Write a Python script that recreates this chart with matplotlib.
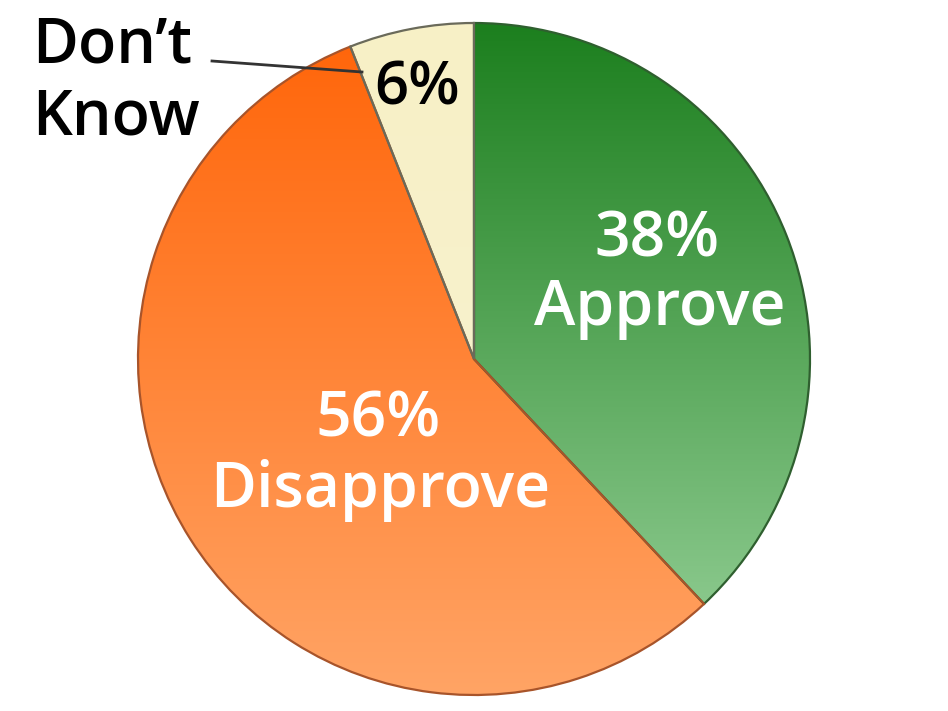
import matplotlib
matplotlib.use("Agg")
import matplotlib.pyplot as plt
import numpy as np
from matplotlib.colors import LinearSegmentedColormap

labels = ["Approve", "Disapprove", "Don\u2019t\nKnow"]
shares = [38, 56, 6]

# vertical gradients (top colour, bottom colour) and outline per slice
grad_top = ["#1c7f1e", "#ff6408", "#f7f0c6"]
grad_bot = ["#9ad39c", "#ffa465", "#f9f3d2"]
edges = ["#2f5f2f", "#a8542a", "#6a6a5a"]

plt.rcParams['font.family'] = ['Open Sans', 'DejaVu Sans']

W, H = 948, 711
R = 336.0  # pie radius in pixels
cx, cy = 474, 359


def px(x, y):
    # pixel position in the picture -> pie units
    return (x - cx) / R, (cy - y) / R


fig = plt.figure(figsize=(W / 100, H / 100), dpi=100)
ax = fig.add_axes([0, 0, 1, 1])

wedges, _ = ax.pie(shares, startangle=90, counterclock=False, radius=1.0,
                   colors=["none"] * 3,
                   wedgeprops=dict(linewidth=1.6))

grad = np.linspace(0, 1, 256).reshape(-1, 1)
for w, top, bot, ec in zip(wedges, grad_top, grad_bot, edges):
    cmap = LinearSegmentedColormap.from_list("g", [top, bot])
    im = ax.imshow(grad, cmap=cmap, extent=[-1, 1, -1, 1], origin='upper',
                   aspect='auto', zorder=1)
    im.set_clip_path(w)
    w.set_edgecolor(ec)
    w.set_zorder(2)

# limits after pie/imshow so the pie stays round and in place
ax.set_xlim(-cx / R, (W - cx) / R)
ax.set_ylim(-(H - cy) / R, cy / R)
ax.set_aspect('auto')
ax.axis('off')

fs = 45
kw = dict(fontsize=fs, ha="center", va="center", fontweight="semibold", zorder=3)
ax.text(*px(657, 240), "38%", color="white", **kw)
ax.text(*px(660, 309), labels[0], color="white", **kw)
ax.text(*px(378, 420), "56%", color="white", **kw)
ax.text(*px(380, 491), labels[1], color="white", **kw)
ax.text(*px(417, 89), "6%", color="black", fontsize=fs - 2, ha="center", va="center",
        fontweight="semibold", zorder=3)
ax.text(*px(32, 82), labels[2], color="black", fontsize=fs, ha="left", va="center",
        fontweight="semibold", linespacing=1.2, zorder=3)

# leader line from label to slice
x0, y0 = px(212, 61)
x1, y1 = px(362, 72)
ax.plot([x0, x1], [y0, y1], color="#333333", linewidth=2, zorder=4)

fig.savefig("out.png", dpi=100)
